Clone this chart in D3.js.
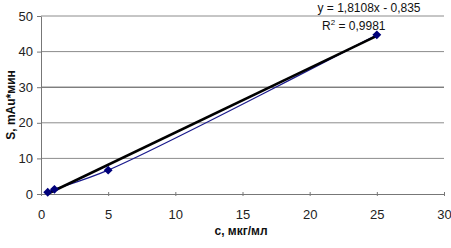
<!DOCTYPE html>
<html>
<head>
<meta charset="utf-8">
<script src="https://cdn.jsdelivr.net/npm/d3@7"></script>
<style>
  body { margin: 0; background: #fff; }
  svg { display: block; font-family: Arial, "Liberation Sans", sans-serif; }
</style>
</head>
<body>
<div id="chart"></div>
<script>
// concentration (мкг/мл) and peak area
const conc = [0.5, 1, 5, 25];
const area = [0.5, 1.3, 6.7, 44.7];
const xTicks = [0, 5, 10, 15, 20, 25, 30];
const yTicks = [0, 10, 20, 30, 40, 50];
const slope = 1.8108;
const intercept = -0.835;
const eqText = 'y = 1,8108x - 0,835';
const r2Text = '0,9981';

const width = 451;
const height = 248;
const margin = {top: 16, right: 7, bottom: 54, left: 41};

const svg = d3.select('#chart')
  .append('svg')
  .attr('width', width)
  .attr('height', height);

const x = d3.scaleLinear().domain([0, 30]).range([margin.left, width - margin.right]);
const y = d3.scaleLinear().domain([0, 50]).range([height - margin.bottom, margin.top]);

// gridlines
svg.append('g')
  .selectAll('line')
  .data(yTicks.filter(d => d > 0))
  .enter()
  .append('line')
  .attr('x1', x(0))
  .attr('x2', x(30))
  .attr('y1', d => y(d))
  .attr('y2', d => y(d))
  .attr('stroke', d => d === 30 ? '#444' : '#8c8c8c')
  .attr('stroke-width', 1);

const xAxis = svg.append('g')
  .attr('transform', `translate(0,${y(0)})`)
  .call(d3.axisBottom(x).tickValues(xTicks).tickSize(4).tickSizeOuter(0).tickPadding(12));
xAxis.select('.domain').attr('stroke', '#777');
xAxis.selectAll('.tick line').attr('stroke', '#777').attr('transform', 'translate(0,-2)');
xAxis.selectAll('text').attr('font-size', 13).attr('fill', '#222');

const yAxis = svg.append('g')
  .attr('transform', `translate(${x(0)},0)`)
  .call(d3.axisLeft(y).tickValues(yTicks).tickSize(4).tickSizeOuter(0).tickPadding(4));
yAxis.select('.domain').attr('stroke', '#777');
yAxis.selectAll('.tick line').attr('stroke', '#777');
yAxis.selectAll('text').attr('font-size', 13).attr('fill', '#222');

// data line (smoothed)
const points = conc.map((c, i) => [c, area[i]]);
const line = d3.line()
  .x(d => x(d[0]))
  .y(d => y(d[1]))
  .curve(d3.curveCatmullRom);

svg.append('path')
  .datum(points)
  .attr('d', line)
  .attr('fill', 'none')
  .attr('stroke', '#1a1a8c')
  .attr('stroke-width', 1.2);

// linear trendline
const trend = d3.extent(conc).map(c => [c, slope * c + intercept]);
svg.append('path')
  .datum(trend)
  .attr('d', d3.line().x(d => x(d[0])).y(d => y(d[1])))
  .attr('fill', 'none')
  .attr('stroke', '#000')
  .attr('stroke-width', 2.5);

// diamond markers
svg.append('g')
  .selectAll('path')
  .data(points)
  .enter()
  .append('path')
  .attr('transform', d => `translate(${x(d[0])},${y(d[1])})`)
  .attr('d', d3.symbol().type(d3.symbolDiamond2).size(50))
  .attr('fill', '#00007a');

// equation
svg.append('text')
  .attr('x', 369)
  .attr('y', 12)
  .attr('text-anchor', 'middle')
  .attr('font-size', 12)
  .attr('fill', '#111')
  .text(eqText);

const r2 = svg.append('text')
  .attr('x', 322)
  .attr('y', 30)
  .attr('font-size', 12)
  .attr('fill', '#111');
r2.append('tspan').text('R');
r2.append('tspan').attr('dy', -5).attr('font-size', 8).text('2');
r2.append('tspan').attr('dy', 5).text(' = ' + r2Text);

// axis titles
svg.append('text')
  .attr('x', 241)
  .attr('y', 235)
  .attr('text-anchor', 'middle')
  .attr('font-size', 12)
  .attr('font-weight', 'bold')
  .attr('fill', '#111')
  .text('c, мкг/мл');

svg.append('text')
  .attr('transform', `translate(15,${y(25)}) rotate(-90)`)
  .attr('text-anchor', 'middle')
  .attr('font-size', 12)
  .attr('font-weight', 'bold')
  .attr('fill', '#111')
  .text('S, mAu*мин');
</script>
</body>
</html>
